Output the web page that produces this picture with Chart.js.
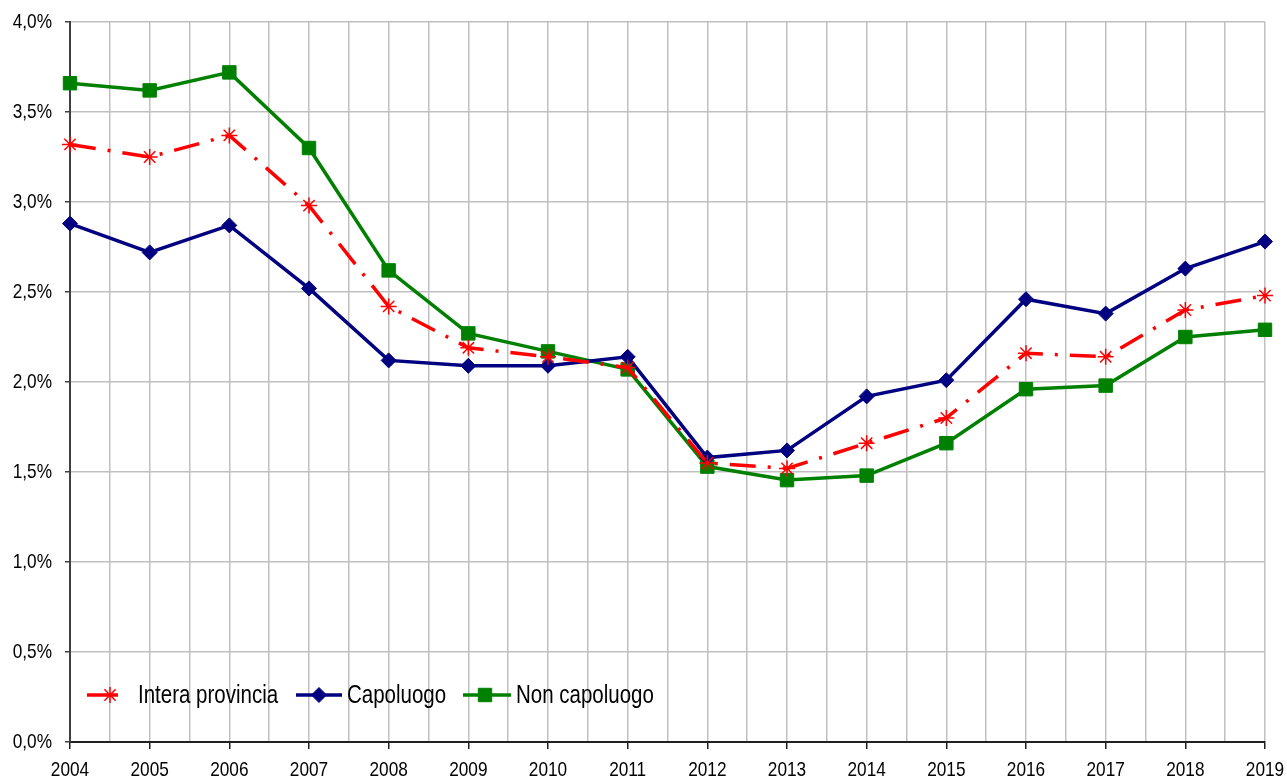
<!DOCTYPE html>
<html>
<head>
<meta charset="utf-8">
<script src="https://cdn.jsdelivr.net/npm/chart.js@4/dist/chart.umd.min.js"></script>
<style>
  html, body { margin: 0; padding: 0; background: #fff; }
  #wrap { width: 1287px; height: 780px; }
</style>
</head>
<body>
<div id="wrap"><canvas id="chart" width="1287" height="780"></canvas></div>
<script>
const years = [2004, 2005, 2006, 2007, 2008, 2009, 2010, 2011, 2012, 2013, 2014, 2015, 2016, 2017, 2018, 2019];
const interaProvincia = [3.32, 3.25, 3.37, 2.98, 2.42, 2.19, 2.14, 2.08, 1.55, 1.52, 1.66, 1.80, 2.16, 2.14, 2.40, 2.48];
const capoluogo = [2.88, 2.72, 2.87, 2.52, 2.12, 2.09, 2.09, 2.14, 1.58, 1.62, 1.92, 2.01, 2.46, 2.38, 2.63, 2.78];
const nonCapoluogo = [3.66, 3.62, 3.72, 3.30, 2.62, 2.27, 2.17, 2.07, 1.53, 1.455, 1.48, 1.66, 1.96, 1.98, 2.25, 2.29];

const FONT = "'Liberation Sans', Arial, sans-serif";
const NARROW = 0.82; // squeeze text to look like Arial Narrow

const toPoints = (vals) => vals.map((v, i) => ({ x: years[i], y: v }));

function narrowText(ctx, text, x, y, size, align) {
  ctx.save();
  ctx.font = size + 'px ' + FONT;
  ctx.fillStyle = '#000';
  ctx.textAlign = align;
  ctx.textBaseline = 'middle';
  ctx.translate(x, y);
  ctx.scale(NARROW, 1);
  ctx.fillText(text, 0, 0);
  ctx.restore();
}

// tick labels drawn condensed at the positions the scales give
const narrowTicks = {
  id: 'narrowTicks',
  afterDraw(chart) {
    const ctx = chart.ctx;
    const xs = chart.scales.x;
    const ys = chart.scales.y;
    xs.ticks.forEach(t => {
      if (!t.label) return;
      narrowText(ctx, t.label, xs.getPixelForValue(t.value), ys.bottom + 28, 21, 'center');
    });
    ys.ticks.forEach(t => {
      narrowText(ctx, t.label, xs.left - 18, ys.getPixelForValue(t.value), 21, 'right');
    });
  }
};

// legend drawn inside the plot area, like the original
const insideLegend = {
  id: 'insideLegend',
  afterDraw(chart) {
    const ctx = chart.ctx;
    const y = 695;
    const items = [
      { ds: 0, x0: 87, x1: 118, mx: 110, tx: 138 },
      { ds: 1, x0: 296, x1: 342, mx: 319, tx: 347 },
      { ds: 2, x0: 463, x1: 511, mx: 485, tx: 516 }
    ];
    items.forEach(it => {
      const d = chart.data.datasets[it.ds];
      ctx.save();
      ctx.strokeStyle = d.borderColor;
      ctx.lineWidth = d.borderWidth;
      ctx.beginPath();
      ctx.moveTo(it.x0, y);
      ctx.lineTo(it.x1, y);
      ctx.stroke();
      ctx.fillStyle = d.pointBackgroundColor;
      ctx.strokeStyle = d.pointBorderColor;
      ctx.lineWidth = d.pointBorderWidth;
      Chart.helpers.drawPoint(ctx, { pointStyle: d.pointStyle, radius: d.pointRadius, borderWidth: d.pointBorderWidth, rotation: 0 }, it.mx, y);
      ctx.restore();
      narrowText(ctx, d.label, it.tx, y + 1, 25, 'left');
    });
  }
};

const ctx = document.getElementById('chart').getContext('2d');
const chart = new Chart(ctx, {
  type: 'line',
  data: {
    datasets: [
      {
        label: 'Intera provincia',
        data: toPoints(interaProvincia),
        borderColor: '#ff0000',
        borderWidth: 3.5,
        borderDash: [26, 12, 3, 12],
        pointStyle: 'star',
        pointRadius: 8,
        pointBorderWidth: 1.5,
        pointBorderColor: '#ff0000',
        pointBackgroundColor: '#ff0000',
        clip: false,
        tension: 0
      },
      {
        label: 'Capoluogo',
        data: toPoints(capoluogo),
        borderColor: '#000080',
        borderWidth: 3.5,
        pointStyle: 'rectRot',
        pointRadius: 7.5,
        pointBorderWidth: 1,
        pointBorderColor: '#000080',
        pointBackgroundColor: '#000080',
        clip: false,
        tension: 0
      },
      {
        label: 'Non capoluogo',
        data: toPoints(nonCapoluogo),
        borderColor: '#008000',
        borderWidth: 3.5,
        pointStyle: 'rect',
        pointRadius: 9.5,
        pointBorderWidth: 1,
        pointBorderColor: '#008000',
        pointBackgroundColor: '#008000',
        clip: false,
        tension: 0
      }
    ]
  },
  options: {
    responsive: false,
    animation: false,
    layout: { padding: { top: 22, right: 22, left: 0, bottom: 0 } },
    plugins: {
      legend: { display: false },
      tooltip: { enabled: false }
    },
    scales: {
      x: {
        type: 'linear',
        min: 2004,
        max: 2019,
        afterFit(scale) { scale.height = 38; },
        afterBuildTicks(scale) {
          const t = [];
          for (let v = 2004; v <= 2019; v += 0.5) t.push({ value: v });
          scale.ticks = t;
        },
        grid: {
          color: '#c0c0c0',
          lineWidth: 1.5,
          tickLength: 7,
          tickColor: (c) => (c.tick && Number.isInteger(c.tick.value)) ? '#202020' : 'rgba(0,0,0,0)'
        },
        border: { color: '#202020', width: 2 },
        ticks: {
          display: false,
          autoSkip: false,
          callback: (v) => Number.isInteger(v) ? String(v) : ''
        }
      },
      y: {
        min: 0,
        max: 4,
        afterFit(scale) { scale.width = 70; },
        grid: {
          color: '#c0c0c0',
          lineWidth: 1.5,
          tickLength: 5,
          tickColor: '#404040'
        },
        border: { color: '#404040', width: 2 },
        ticks: {
          display: false,
          stepSize: 0.5,
          callback: (v) => v.toFixed(1).replace('.', ',') + '%'
        }
      }
    }
  },
  plugins: [narrowTicks, insideLegend]
});
</script>
</body>
</html>
